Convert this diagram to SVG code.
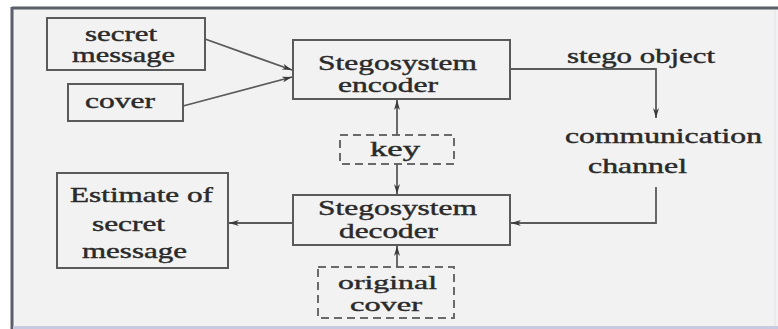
<svg xmlns="http://www.w3.org/2000/svg" width="778" height="329" viewBox="0 0 778 329">
<defs>
<style>
.box{fill:none;stroke:#5a5a5a;stroke-width:2}
.dash{fill:none;stroke:#6a6a6a;stroke-width:2;stroke-dasharray:8 5}
.ln{fill:none;stroke:#5a5a5a;stroke-width:1.8}
text{font-family:"Liberation Serif","Times New Roman",serif;font-size:20px;fill:#2a2a2a;stroke:#2a2a2a;stroke-width:0.4;text-anchor:middle}
.sm{font-size:19px}
</style>
<marker id="ah" viewBox="0 0 10 6" refX="10" refY="3" markerWidth="10" markerHeight="6" markerUnits="userSpaceOnUse" orient="auto">
<path d="M0,0 L10,3 L0,6 L3,3 Z" fill="#3a3a3a"/>
</marker>
</defs>
<rect x="0" y="0" width="778" height="329" fill="#ffffff"/>
<rect x="12" y="8" width="766" height="319" fill="#f2f2f2"/>
<line x1="12" y1="8" x2="778" y2="8" stroke="#5a5f6a" stroke-width="3"/>
<line x1="12" y1="7" x2="12" y2="329" stroke="#5a5f6a" stroke-width="3"/>
<line x1="13" y1="327.5" x2="778" y2="327.5" stroke="#c8cadf" stroke-width="3"/>
<line x1="775" y1="10" x2="775" y2="326" stroke="#e6e6ee" stroke-width="1.5"/>

<g id="secret-message">
<rect class="box" x="47" y="18" width="158" height="52"/>
<text transform="translate(121,41) scale(1.5,1)" textLength="48" lengthAdjust="spacingAndGlyphs">secret</text>
<text transform="translate(123.5,62) scale(1.5,1)" textLength="68.7" lengthAdjust="spacingAndGlyphs">message</text>
</g>
<g id="cover">
<rect class="box" x="68" y="84" width="115" height="37"/>
<text transform="translate(120,108) scale(1.5,1)" textLength="46.7" lengthAdjust="spacingAndGlyphs">cover</text>
</g>
<g id="encoder">
<rect class="box" x="293" y="40" width="217" height="59"/>
<text transform="translate(397.5,70) scale(1.5,1)" textLength="106" lengthAdjust="spacingAndGlyphs">Stegosystem</text>
<text transform="translate(388,92) scale(1.5,1)" textLength="66.7" lengthAdjust="spacingAndGlyphs">encoder</text>
</g>
<g id="key">
<rect class="dash" x="340" y="135" width="114" height="29"/>
<text transform="translate(395,156) scale(1.5,1)" textLength="33.3" lengthAdjust="spacingAndGlyphs">key</text>
</g>
<g id="stego-object">
<text transform="translate(641,63) scale(1.5,1)" textLength="98.7" lengthAdjust="spacingAndGlyphs">stego object</text>
</g>
<g id="channel">
<text transform="translate(663.5,143) scale(1.5,1)" textLength="131.3" lengthAdjust="spacingAndGlyphs">communication</text>
<text transform="translate(637.5,173) scale(1.5,1)" textLength="66" lengthAdjust="spacingAndGlyphs">channel</text>
</g>
<g id="decoder">
<rect class="box" x="293" y="195" width="217" height="50"/>
<text transform="translate(397.5,215) scale(1.5,1)" textLength="106" lengthAdjust="spacingAndGlyphs">Stegosystem</text>
<text transform="translate(388.5,238) scale(1.5,1)" textLength="66" lengthAdjust="spacingAndGlyphs">decoder</text>
</g>
<g id="estimate">
<rect class="box" x="57" y="173" width="171" height="95"/>
<text transform="translate(141.5,202) scale(1.5,1)" textLength="95.3" lengthAdjust="spacingAndGlyphs">Estimate of</text>
<text transform="translate(128.5,231) scale(1.5,1)" textLength="48.7" lengthAdjust="spacingAndGlyphs">secret</text>
<text transform="translate(134.5,258) scale(1.5,1)" textLength="70" lengthAdjust="spacingAndGlyphs">message</text>
</g>
<g id="original-cover">
<rect class="dash" x="318" y="267" width="136" height="51"/>
<text class="sm" transform="translate(387.5,289) scale(1.5,1)" textLength="66" lengthAdjust="spacingAndGlyphs">original</text>
<text class="sm" transform="translate(386,311) scale(1.5,1)" textLength="48" lengthAdjust="spacingAndGlyphs">cover</text>
</g>

<g id="connectors">
<line class="ln" x1="205" y1="39" x2="292" y2="70" marker-end="url(#ah)"/>
<line class="ln" x1="183" y1="106" x2="292" y2="77" marker-end="url(#ah)"/>
<polyline class="ln" points="510,69 656,69 656,118" marker-end="url(#ah)"/>
<line class="ln" x1="397" y1="135" x2="397" y2="100" marker-end="url(#ah)"/>
<line class="ln" x1="397" y1="164" x2="397" y2="194" marker-end="url(#ah)"/>
<line class="ln" x1="397" y1="267" x2="397" y2="246" marker-end="url(#ah)"/>
<polyline class="ln" points="656,187 656,223 511,223" marker-end="url(#ah)"/>
<line class="ln" x1="293" y1="223" x2="229" y2="223" marker-end="url(#ah)"/>
</g>
</svg>
